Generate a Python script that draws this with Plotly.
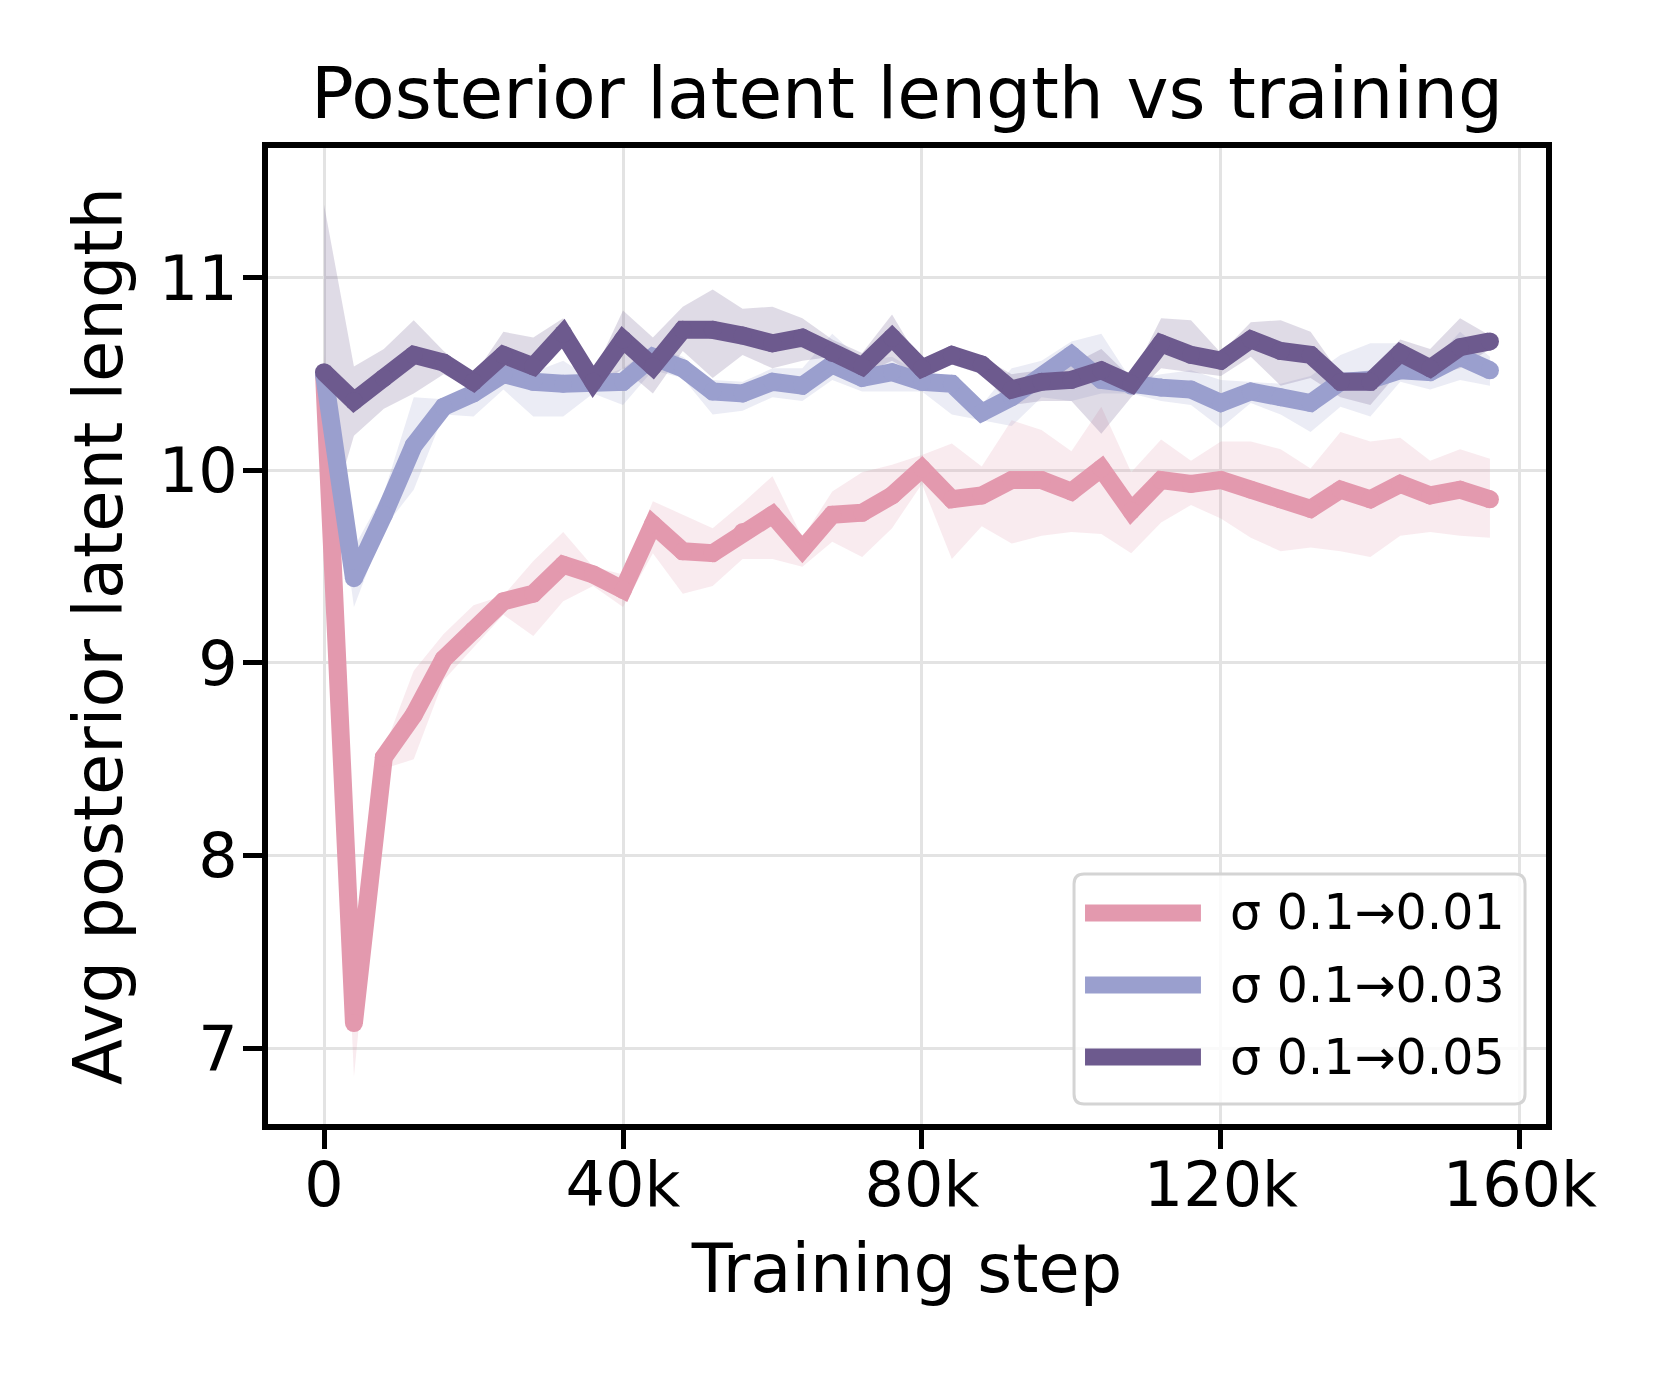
import plotly.graph_objects as go

steps = [i * 4000 for i in range(40)]

# sigma 0.1 -> 0.01
mean_01 = [10.50, 7.13, 8.51, 8.73, 9.02, 9.17, 9.32, 9.36, 9.51, 9.46,
           9.38, 9.72, 9.58, 9.57, 9.68, 9.77, 9.59, 9.77, 9.78, 9.87,
           10.01, 9.85, 9.87, 9.95, 9.95, 9.89, 10.01, 9.79, 9.95, 9.93,
           9.95, 9.90, 9.85, 9.80, 9.90, 9.85, 9.93, 9.87, 9.90, 9.85]
upper_01 = [10.60, 7.40, 8.55, 8.96, 9.15, 9.30, 9.35, 9.53, 9.68, 9.50,
            9.46, 9.84, 9.77, 9.70, 9.83, 9.97, 9.65, 9.89, 9.99, 10.03,
            10.08, 10.14, 10.02, 10.26, 10.21, 10.10, 10.33, 9.99, 10.16, 10.05,
            10.15, 10.15, 10.11, 10.01, 10.20, 10.15, 10.17, 10.05, 10.11, 10.06]
lower_01 = [10.40, 6.85, 8.45, 8.50, 8.91, 9.08, 9.25, 9.14, 9.32, 9.40,
            9.29, 9.57, 9.36, 9.40, 9.54, 9.54, 9.50, 9.63, 9.55, 9.70,
            9.93, 9.54, 9.71, 9.62, 9.66, 9.68, 9.67, 9.57, 9.73, 9.82,
            9.75, 9.65, 9.58, 9.60, 9.58, 9.55, 9.66, 9.68, 9.66, 9.65]

# sigma 0.1 -> 0.03
mean_03 = [10.50, 9.44, 9.77, 10.13, 10.33, 10.40, 10.50, 10.46, 10.45, 10.45,
           10.46, 10.59, 10.53, 10.41, 10.40, 10.46, 10.44, 10.55, 10.48, 10.51,
           10.46, 10.45, 10.30, 10.38, 10.48, 10.60, 10.47, 10.44, 10.43, 10.42,
           10.35, 10.41, 10.38, 10.35, 10.46, 10.47, 10.52, 10.51, 10.59, 10.52]
upper_03 = [10.55, 9.60, 9.88, 10.38, 10.37, 10.43, 10.53, 10.51, 10.57, 10.47,
            10.53, 10.64, 10.59, 10.47, 10.46, 10.53, 10.53, 10.71, 10.57, 10.59,
            10.50, 10.48, 10.34, 10.53, 10.57, 10.67, 10.71, 10.47, 10.50, 10.52,
            10.47, 10.46, 10.45, 10.49, 10.60, 10.66, 10.66, 10.55, 10.72, 10.59]
lower_03 = [10.45, 9.29, 9.70, 9.90, 10.29, 10.28, 10.42, 10.28, 10.28, 10.40,
            10.34, 10.52, 10.48, 10.29, 10.31, 10.38, 10.36, 10.47, 10.41, 10.41,
            10.41, 10.29, 10.26, 10.23, 10.38, 10.36, 10.40, 10.40, 10.36, 10.34,
            10.22, 10.35, 10.29, 10.20, 10.33, 10.28, 10.46, 10.42, 10.47, 10.44]

# sigma 0.1 -> 0.05
mean_05 = [10.51, 10.36, 10.48, 10.60, 10.56, 10.46, 10.60, 10.54, 10.71, 10.46,
           10.68, 10.54, 10.73, 10.73, 10.70, 10.66, 10.69, 10.61, 10.54, 10.69,
           10.53, 10.60, 10.55, 10.42, 10.46, 10.47, 10.52, 10.45, 10.66, 10.60,
           10.57, 10.68, 10.62, 10.60, 10.46, 10.46, 10.61, 10.53, 10.64, 10.67]
upper_05 = [11.38, 10.54, 10.63, 10.78, 10.62, 10.49, 10.72, 10.69, 10.79, 10.50,
            10.83, 10.69, 10.85, 10.94, 10.84, 10.85, 10.79, 10.68, 10.61, 10.81,
            10.55, 10.63, 10.59, 10.50, 10.52, 10.55, 10.63, 10.48, 10.79, 10.78,
            10.61, 10.77, 10.78, 10.72, 10.50, 10.52, 10.68, 10.63, 10.79, 10.70]
lower_05 = [9.65, 10.18, 10.32, 10.40, 10.50, 10.42, 10.50, 10.48, 10.64, 10.41,
            10.53, 10.40, 10.62, 10.48, 10.60, 10.53, 10.57, 10.59, 10.50, 10.57,
            10.48, 10.55, 10.50, 10.34, 10.36, 10.36, 10.19, 10.38, 10.53, 10.51,
            10.49, 10.59, 10.44, 10.48, 10.38, 10.34, 10.52, 10.49, 10.53, 10.63]

series = [
    ("σ 0.1→0.01", mean_01, upper_01, lower_01, "#e399ae", "rgba(227,153,174,0.2)"),
    ("σ 0.1→0.03", mean_03, upper_03, lower_03, "#9a9fce", "rgba(154,159,206,0.2)"),
    ("σ 0.1→0.05", mean_05, upper_05, lower_05, "#6d5a8e", "rgba(109,90,142,0.22)"),
]

x_ticks = [0, 40000, 80000, 120000, 160000]
x_ticktext = ["0", "40k", "80k", "120k", "160k"]
y_ticks = [7, 8, 9, 10, 11]

font = "DejaVu Sans"
line_w = 18

fig = go.Figure()

# shaded bands first
for name, mean, up, lo, color, fill in series:
    fig.add_trace(
        go.Scatter(
            x=steps + steps[::-1],
            y=up + lo[::-1],
            fill="toself",
            fillcolor=fill,
            line=dict(width=0),
            mode="lines",
            hoverinfo="skip",
            showlegend=False
        )
    )

# mean lines; round markers give the joins a rounded look
for name, mean, up, lo, color, fill in series:
    fig.add_trace(
        go.Scatter(
            x=steps,
            y=mean,
            mode="lines+markers",
            name=name,
            line=dict(color=color, width=line_w),
            marker=dict(color=color, size=line_w, line=dict(width=0)),
            showlegend=False
        )
    )

# legend drawn by hand (plotly caps legend line width)
bx0, bx1, by0, by1 = 0.6307, 0.9836, 0.0205, 0.2561
rx, ry = 10 / 1278, 10 / 976
box_path = (
    f"M {bx0 + rx},{by0} L {bx1 - rx},{by0} Q {bx1},{by0} {bx1},{by0 + ry} "
    f"L {bx1},{by1 - ry} Q {bx1},{by1} {bx1 - rx},{by1} "
    f"L {bx0 + rx},{by1} Q {bx0},{by1} {bx0},{by1 - ry} "
    f"L {bx0},{by0 + ry} Q {bx0},{by0} {bx0 + rx},{by0} Z"
)
fig.add_shape(
    type="path", path=box_path, xref="paper", yref="paper",
    fillcolor="rgba(255,255,255,0.8)", line=dict(color="#d4d4d4", width=3)
)
row_y = [0.2162, 0.1424, 0.0686]
for (name, mean, up, lo, color, fill), ry_ in zip(series, row_y):
    fig.add_shape(
        type="line", xref="paper", yref="paper",
        x0=0.6393, x1=0.7300, y0=ry_, y1=ry_,
        line=dict(color=color, width=17)
    )
    fig.add_annotation(
        text=name, xref="paper", yref="paper", x=0.7512, y=ry_,
        xanchor="left", yanchor="middle", showarrow=False,
        font=dict(size=49, family=font, color="black")
    )

fig.update_layout(
    width=1664,
    height=1376,
    paper_bgcolor="white",
    plot_bgcolor="white",
    margin=dict(l=260, r=126, t=140, b=260),
    font=dict(family=font, color="black"),
    title=dict(
        text="Posterior latent length vs training",
        x=0.5,
        xref="paper",
        y=1 - 85 / 1376,
        yref="container",
        yanchor="middle",
        font=dict(size=71, family=font, color="black")
    ),
    showlegend=False
)

fig.update_xaxes(
    range=[-7499, 163499],
    tickvals=x_ticks,
    ticktext=x_ticktext,
    ticks="outside",
    ticklen=19,
    tickwidth=5,
    tickcolor="black",
    tickfont=dict(size=62, family=font, color="black"),
    ticklabelstandoff=-17,
    showline=True,
    linewidth=6,
    linecolor="black",
    mirror=True,
    showgrid=True,
    gridcolor="#e3e3e3",
    gridwidth=3,
    zeroline=False,
    title=dict(text="Training step", font=dict(size=67, family=font, color="black"), standoff=27)
)

fig.update_yaxes(
    range=[6.6056, 11.6744],
    tickvals=y_ticks,
    ticks="outside",
    ticklen=19,
    tickwidth=5,
    tickcolor="black",
    tickfont=dict(size=62, family=font, color="black"),
    ticklabelstandoff=-7,
    showline=True,
    linewidth=6,
    linecolor="black",
    mirror=True,
    showgrid=True,
    gridcolor="#e3e3e3",
    gridwidth=3,
    zeroline=False,
    title=dict(text="Avg posterior latent length", font=dict(size=67, family=font, color="black"), standoff=16)
)

fig.write_html("out.html")
